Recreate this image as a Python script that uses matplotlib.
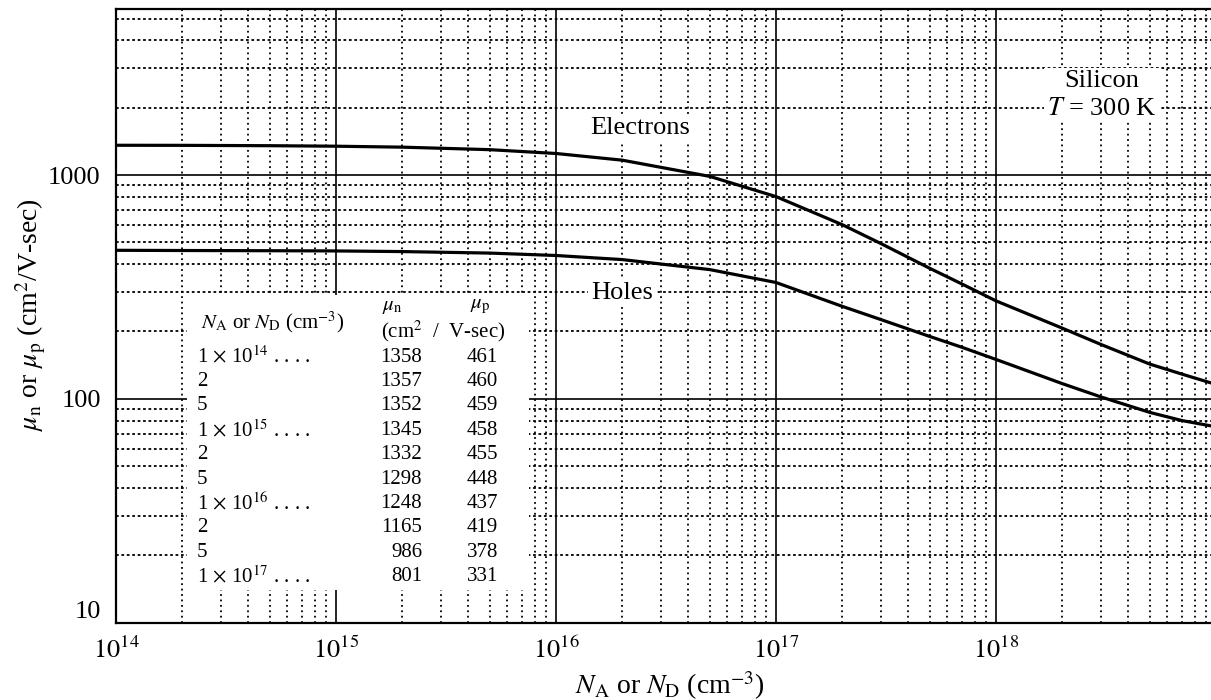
import numpy as np
import matplotlib
matplotlib.use("Agg")
import matplotlib.pyplot as plt
from matplotlib.patches import Rectangle
from matplotlib.ticker import LogLocator, NullFormatter

plt.rcParams["font.family"] = ["Liberation Serif", "DejaVu Serif"]
plt.rcParams["mathtext.fontset"] = "stix"

# doping concentration (cm^-3) and mobilities (cm^2/V-sec), Si at 300 K
conc = [1e14, 2e14, 5e14, 1e15, 2e15, 5e15, 1e16, 2e16, 5e16, 1e17,
        2e17, 3e17, 5e17, 7e17, 1e18, 2e18, 3e18, 5e18, 7e18, 1e19]
mu_n = [1358, 1357, 1352, 1345, 1332, 1298, 1248, 1165, 986, 801,
        600, 494, 383, 326, 274, 207, 175, 143, 129, 116]
mu_p = [461, 460, 459, 458, 455, 448, 437, 419, 378, 331,
        259, 226, 190, 170, 150, 117, 102, 87, 80, 75]
n_table = 10  # the first rows are also printed in the inset table

x_ticks = [1e14, 1e15, 1e16, 1e17, 1e18]
y_ticks = [10, 100, 1000]
y_tick_labels = ["10", "100", "1000"]

W, H = 1211, 700


def fpos(x, y):
    """pixel position (from top-left) -> figure fraction"""
    return x / W, 1 - y / H


def conc_label(c):
    exp = int(np.floor(np.log10(c)))
    mant = int(round(c / 10 ** exp))
    if mant == 1:
        return r"1 $\times$ 10$^{%d}$ . . . ." % exp
    return str(mant)


fig = plt.figure(figsize=(W / 100, H / 100), dpi=100)
ax = fig.add_axes([116 / W, 1 - 622.7 / H, 1100 / W, 613.4 / H])
ax.set_xscale("log")
ax.set_yscale("log")
ax.set_xlim(1e14, 1e19)
ax.set_ylim(10, 5500)

# graph-paper grid
ax.set_axisbelow(True)
ax.set_xticks(x_ticks)
ax.set_xticklabels([r"$10^{%d}$" % np.log10(t) for t in x_ticks])
ax.set_yticks(y_ticks)
ax.set_yticklabels(y_tick_labels)
for axis in (ax.xaxis, ax.yaxis):
    axis.set_minor_locator(LogLocator(base=10, subs=range(2, 10), numticks=50))
    axis.set_minor_formatter(NullFormatter())
ax.grid(which="major", color="black", lw=1.2, ls="-")
ax.grid(which="minor", axis="x", color="black", lw=1.3, ls=(0, (1, 2)))
ax.grid(which="minor", axis="y", color="black", lw=1.3, ls=(0, (1.5, 1.5)))
ax.tick_params(which="both", length=0, labelsize=19)
ax.tick_params(axis="x", pad=10)
ax.tick_params(axis="y", pad=11)
ax.get_yticklabels()[0].set_va("bottom")
for s in ax.spines.values():
    s.set_linewidth(1.6)

# blank area for the table
ax.add_patch(Rectangle((2.1e14, 14), 7.5e15 - 2.1e14, 290 - 14,
                       facecolor="white", edgecolor="none", zorder=1))

ax.plot(conc, mu_n, color="black", lw=2.3, zorder=3)
ax.plot(conc, mu_p, color="black", lw=2.3, zorder=3)

box = dict(facecolor="white", edgecolor="none", pad=2)
fig.text(*fpos(640, 128), "Electrons", ha="center", va="center", fontsize=19, bbox=box)
fig.text(*fpos(622, 293), "Holes", ha="center", va="center", fontsize=19, bbox=box)
fig.text(*fpos(1102, 95), "Silicon\n$T$ = 300 K", ha="center", va="center",
         fontsize=19, linespacing=1.3, multialignment="center", bbox=box)

# table
fs = 15
fig.text(*fpos(201, 322), r"$N_{\rm A}$ or $N_{\rm D}$ (cm$^{-3}$)", ha="left", va="center", fontsize=fs)
fig.text(*fpos(392, 307), r"$\mu_{\rm n}$", ha="center", va="center", fontsize=fs)
fig.text(*fpos(480, 307), r"$\mu_{\rm p}$", ha="center", va="center", fontsize=fs)
fig.text(*fpos(443, 331), r"(cm$^2$  /  V-sec)", ha="center", va="center", fontsize=fs)
for i in range(n_table):
    y = 357 + 24.4 * i
    fig.text(*fpos(197, y), conc_label(conc[i]), ha="left", va="center", fontsize=fs)
    fig.text(*fpos(422, y), str(mu_n[i]), ha="right", va="center", fontsize=fs)
    fig.text(*fpos(498, y), str(mu_p[i]), ha="right", va="center", fontsize=fs)

fig.text(*fpos(670, 686), r"$N_{\rm A}$ or $N_{\rm D}$ (cm$^{-3}$)", ha="center", va="center", fontsize=20)
fig.text(*fpos(31, 315), r"$\mu_{\rm n}$ or $\mu_{\rm p}$ (cm$^2$/V-sec)", ha="center", va="center",
         rotation=90, fontsize=20)

fig.savefig("out.png", dpi=100, facecolor="white")
